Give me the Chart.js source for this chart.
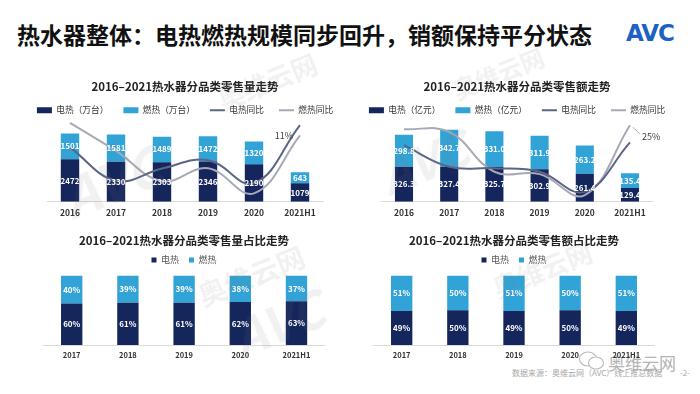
<!DOCTYPE html>
<html>
<head>
<meta charset="utf-8">
<script src="https://cdn.jsdelivr.net/npm/chart.js@4.4.0/dist/chart.umd.min.js"></script>
<style>
  body { margin: 0; width: 700px; height: 394px; overflow: hidden; background: #fff; position: relative;
         font-family: "Noto Sans CJK SC", sans-serif; }
  .abs { position: absolute; white-space: nowrap; }
  #title { left: 17px; top: 19px; font-size: 23px; line-height: 30px; font-weight: bold; color: #111; }
  #logo { left: 626px; top: 20px; font: bold 23px "DejaVu Sans", sans-serif; color: #1c62c4; letter-spacing: -1px; }
  #source { left: 512px; top: 367px; font-size: 8px; color: #a8a8a8; }
  #page { left: 680px; top: 367px; font-size: 8px; color: #a8a8a8; }
  #wx { left: 608px; top: 350px; font-size: 17px; color: #b4b4b4; }
  .wm { position: absolute; white-space: nowrap; color: rgba(120, 120, 120, 0.10); font-weight: bold;
        transform: rotate(-22deg); z-index: 5; pointer-events: none; }
  canvas { position: absolute; }
</style>
</head>
<body>
<div class="abs" id="title">热水器整体：电热燃热规模同步回升，销额保持平分状态</div>
<div class="abs" id="logo">AVC</div>
<svg class="abs" style="left:578px;top:350px" width="28" height="22">
  <ellipse cx="10" cy="9" rx="8.5" ry="7" fill="none" stroke="#bdbdbd" stroke-width="1.2"/>
  <ellipse cx="18" cy="13" rx="7.5" ry="6" fill="#fff" stroke="#bdbdbd" stroke-width="1.2"/>
</svg>
<div class="abs" id="wx">奥维云网</div>
<div class="abs" id="source">数据来源：奥维云网（AVC）线上推总数据</div>
<div class="abs" id="page">-2-</div>

<canvas id="c1" width="370" height="149" style="left:0px;top:75px"></canvas>
<canvas id="c2" width="366" height="149" style="left:334px;top:75px"></canvas>
<canvas id="c3" width="368" height="136" style="left:0px;top:229px"></canvas>
<canvas id="c4" width="368" height="136" style="left:330px;top:229px"></canvas>

<div class="wm" style="left:215px;top:62px;font-size:26px">奥维云网</div>
<div class="wm" style="left:60px;top:140px;font-size:54px;font-style:italic">AVC</div>
<div class="wm" style="left:450px;top:55px;font-size:24px">奥维云网</div>
<div class="wm" style="left:378px;top:125px;font-size:48px;font-style:italic">AVC</div>
<div class="wm" style="left:195px;top:255px;font-size:28px">奥维云网</div>
<div class="wm" style="left:230px;top:285px;font-size:50px;font-style:italic">AVC</div>
<div class="wm" style="left:490px;top:250px;font-size:26px">奥维云网</div>

<script>
// categories
const years6 = ['2016', '2017', '2018', '2019', '2020', '2021H1'];
const years5 = ['2017', '2018', '2019', '2020', '2021H1'];

// retail volume (万台) and YoY (%)
const volElec = [2472, 2330, 2303, 2346, 2190, 1079];
const volGas = [1501, 1581, 1489, 1472, 1320, 643];
const volElecYoy = [6.6, -5.7, -1.2, 1.9, -6.6, 14.8];
const volGasYoy = [15.6, 5.3, -5.8, -1.1, -10.3, 11];

// retail amount (亿元) and YoY (%)
const amtElec = [326.3, 327.4, 325.7, 302.9, 261.4, 129.4];
const amtGas = [298.8, 342.7, 331.0, 311.9, 263.2, 135.4];
const amtElecYoy = [15.0, 4.2, 3.5, 1.7, -8.4, 16.4];
const amtGasYoy = [23.0, 21.7, 1.7, 0.5, -10.0, 25.0];

// shares (%)
const volShareElec = [60, 61, 61, 62, 63];
const volShareGas = [40, 39, 39, 38, 37];
const amtShareElec = [49, 50, 49, 50, 49];
const amtShareGas = [51, 50, 51, 50, 51];

const NAVY = '#14265c';
const BLUE = '#32a3d6';
const LINE_DARK = '#5b6587';
const LINE_LIGHT = '#a7a9b6';

Chart.defaults.font.family = '"Noto Sans CJK SC", sans-serif';
Chart.defaults.animation = false;

// white value labels in the middle of each bar segment, plus end labels on lines
const valueLabels = {
  id: 'valueLabels',
  afterDatasetsDraw(chart) {
    const ctx = chart.ctx;
    chart.data.datasets.forEach((ds, i) => {
      const meta = chart.getDatasetMeta(i);
      ctx.save();
      if (meta.type === 'bar') {
        ctx.font = 'bold 8px "Noto Sans CJK SC"';
        ctx.fillStyle = '#fff';
        ctx.textAlign = 'center';
        ctx.textBaseline = 'middle';
        meta.data.forEach((bar, j) => {
          const p = bar.getCenterPoint();
          ctx.fillText(ds.data[j].toFixed(ds.digits || 0) + (ds.suffix || ''), p.x, p.y);
        });
      } else if (ds.endLabel) {
        const pt = meta.data[meta.data.length - 1];
        const e = ds.endLabel;
        ctx.font = '9px "Noto Sans CJK SC"';
        ctx.fillStyle = '#404040';
        ctx.textBaseline = 'middle';
        if (e.leader) {
          ctx.strokeStyle = '#9a9a9a';
          ctx.lineWidth = 0.8;
          ctx.beginPath();
          ctx.moveTo(pt.x + 3, pt.y + 2);
          ctx.lineTo(pt.x + 7, pt.y + 6);
          ctx.lineTo(pt.x + 10, pt.y + 9);
          ctx.stroke();
          ctx.textAlign = 'left';
          ctx.fillText(e.text, pt.x + 12, pt.y + 11);
        } else {
          ctx.textAlign = 'right';
          ctx.fillText(e.text, pt.x - 7, pt.y);
        }
      }
      ctx.restore();
    });
  }
};

function hiddenAxis(pos, min, max, w) {
  return {
    position: pos, min: min, max: max,
    ticks: { display: false },
    grid: { display: false, drawTicks: false },
    border: { display: false },
    afterFit(s) { s.width = w; }
  };
}

function xAxis(size, pad) {
  return {
    stacked: true,
    grid: { display: false, drawTicks: false },
    border: { display: true, color: '#d9d9d9' },
    ticks: { font: { size: size, weight: 'bold' }, color: '#333', padding: pad }
  };
}

function trendChart(id, title, unit, elec, gas, elecYoy, gasYoy, yMax, y2Min, y2Max, wl, wr, digits, endLabel) {
  return new Chart(document.getElementById(id), {
    type: 'bar',
    data: {
      labels: years6,
      datasets: [
        { label: '电热（' + unit + '）', data: elec, backgroundColor: NAVY, yAxisID: 'y', order: 1,
          pointStyle: 'rect', digits: digits, barPercentage: 0.4, categoryPercentage: 1 },
        { label: '燃热（' + unit + '）', data: gas, backgroundColor: BLUE, yAxisID: 'y', order: 1,
          pointStyle: 'rect', digits: digits, barPercentage: 0.4, categoryPercentage: 1 },
        { type: 'line', label: '电热同比', data: elecYoy, borderColor: LINE_DARK, backgroundColor: LINE_DARK,
          borderWidth: 2, pointRadius: 0, pointStyle: 'line', tension: 0.4, yAxisID: 'y2', order: 0, clip: false },
        { type: 'line', label: '燃热同比', data: gasYoy, borderColor: LINE_LIGHT, backgroundColor: LINE_LIGHT,
          borderWidth: 2, pointRadius: 0, pointStyle: 'line', tension: 0.4, yAxisID: 'y2', order: 0, clip: false,
          endLabel: endLabel }
      ]
    },
    options: {
      responsive: false,
      elements: { line: { capBezierPoints: false } },
      plugins: {
        title: { display: true, text: title, color: '#222', font: { size: 11.5, weight: 'bold' },
                 padding: { top: 5, bottom: -3 } },
        legend: {
          labels: { usePointStyle: true, pointStyleWidth: 15, boxHeight: 6, padding: 15, color: '#333',
                    font: { size: 8.7 }, sort: (a, b) => a.datasetIndex - b.datasetIndex }
        },
        tooltip: { enabled: false }
      },
      scales: {
        x: xAxis(8.5, 6),
        y: Object.assign(hiddenAxis('left', 0, yMax, wl), { stacked: true }),
        y2: hiddenAxis('right', y2Min, y2Max, wr)
      }
    },
    plugins: [valueLabels]
  });
}

function shareChart(id, title, elec, gas, wl, wr) {
  return new Chart(document.getElementById(id), {
    type: 'bar',
    data: {
      labels: years5,
      datasets: [
        { label: '电热', data: elec, backgroundColor: NAVY, pointStyle: 'rect', suffix: '%',
          barPercentage: 0.38, categoryPercentage: 1 },
        { label: '燃热', data: gas, backgroundColor: BLUE, pointStyle: 'rect', suffix: '%',
          barPercentage: 0.38, categoryPercentage: 1 }
      ]
    },
    options: {
      responsive: false,
      plugins: {
        title: { display: true, text: title, color: '#222', font: { size: 11.5, weight: 'bold' },
                 padding: { top: 5.1, bottom: -2.4 } },
        legend: {
          labels: { usePointStyle: true, pointStyleWidth: 5, boxHeight: 5, padding: 10, color: '#555',
                    font: { size: 9 } }
        },
        tooltip: { enabled: false }
      },
      scales: {
        x: xAxis(7.5, 5.5),
        y: Object.assign(hiddenAxis('left', 0, 101.7, wl), { stacked: true }),
        y2: hiddenAxis('right', 0, 1, wr)
      }
    },
    plugins: [valueLabels]
  });
}

trendChart('c1', '2016–2021热水器分品类零售量走势', '万台', volElec, volGas, volElecYoy, volGasYoy,
  4500, -13.4, 15.0, 47, 47, 0, { text: '11%' });
trendChart('c2', '2016–2021热水器分品类零售额走势', '亿元', amtElec, amtGas, amtElecYoy, amtGasYoy,
  720, -13.35, 25.35, 47.4, 47.4, 1, { text: '25%', leader: true });
shareChart('c3', '2016–2021热水器分品类零售量占比走势', volShareElec, volShareGas, 43.6, 43.4);
shareChart('c4', '2016–2021热水器分品类零售额占比走势', amtShareElec, amtShareGas, 43.6, 43.6);
</script>
</body>
</html>
